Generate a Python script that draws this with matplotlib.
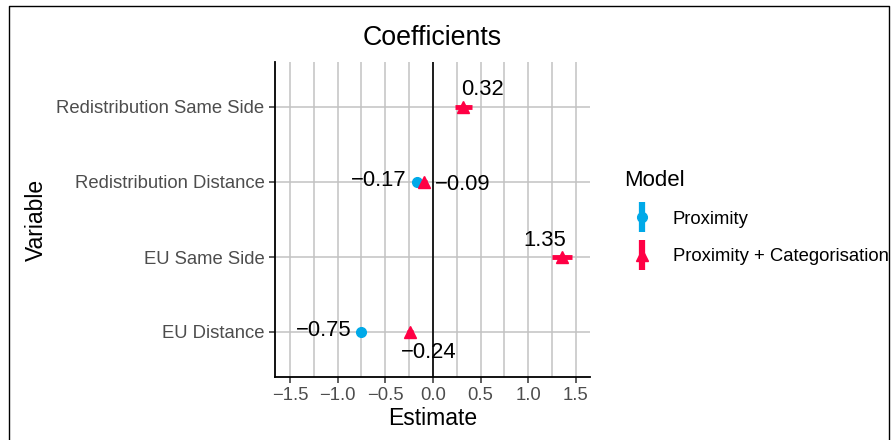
import matplotlib
matplotlib.use("Agg")
import matplotlib.pyplot as plt
from matplotlib.lines import Line2D
from matplotlib.legend_handler import HandlerTuple
import numpy as np

plt.rcParams['font.family'] = ['Liberation Sans', 'DejaVu Sans']

# ---- data ----
variables = ["EU Distance", "EU Same Side", "Redistribution Distance", "Redistribution Same Side"]

prox_vars = ["Redistribution Distance", "EU Distance"]
prox_est = [-0.17, -0.75]
prox_lo = [-0.19, -0.77]
prox_hi = [-0.15, -0.73]

cat_vars = ["Redistribution Same Side", "Redistribution Distance", "EU Same Side", "EU Distance"]
cat_est = [0.32, -0.09, 1.35, -0.24]
cat_lo = [0.23, -0.12, 1.25, -0.27]
cat_hi = [0.41, -0.06, 1.46, -0.21]

x_ticks = [-1.5, -1.0, -0.5, 0.0, 0.5, 1.0, 1.5]
x_tick_labels = ["\u22121.5", "\u22121.0", "\u22120.5", "0.0", "0.5", "1.0", "1.5"]

# label offsets in pixels (ggrepel-like placement)
prox_offsets = [(-10, 1, "right"), (-10, 2, "right")]
cat_offsets = [(19, 17, "center"), (11, -3, "left"), (-17, 17, "center"), (19, -20, "center")]

BLUE = "#00A9E8"
RED = "#FF0044"

fig = plt.figure(figsize=(8.91, 4.4), dpi=100)
ax = fig.add_axes([275 / 891, 1 - 377 / 440, 315 / 891, 315 / 440])

ypos = {v: i + 1 for i, v in enumerate(variables)}
py = [ypos[v] for v in prox_vars]
cy = [ypos[v] for v in cat_vars]

# grid
ax.set_xticks(x_ticks)
ax.set_xticklabels(x_tick_labels)
ax.set_xticks(np.arange(-1.75, 1.76, 0.5), minor=True)
ax.set_yticks(list(ypos.values()))
ax.set_yticklabels(variables)
ax.grid(True, which="both", axis="x", color="#c2c2c2", lw=1.1, zorder=0)
ax.grid(True, which="major", axis="y", color="#c2c2c2", lw=1.1, zorder=0)
ax.tick_params(axis="x", which="minor", length=0)
ax.axvline(0, color="black", lw=1.2, zorder=1)

# points with intervals
ax.hlines(py, prox_lo, prox_hi, color=BLUE, lw=3, zorder=3)
ax.plot(prox_est, py, "o", color=BLUE, ms=7, zorder=4)
ax.hlines(cy, cat_lo, cat_hi, color=RED, lw=3.5, zorder=3)
ax.plot(cat_est, cy, "^", color=RED, ms=9, zorder=4)

for x, y, (dx, dy, ha) in zip(prox_est, py, prox_offsets):
    ax.annotate(f"{x:.2f}".replace("-", "\u2212"), (x, y), xytext=(dx, dy),
                textcoords="offset pixels", ha=ha, va="center", fontsize=15.8, zorder=5)
for x, y, (dx, dy, ha) in zip(cat_est, cy, cat_offsets):
    ax.annotate(f"{x:.2f}".replace("-", "\u2212"), (x, y), xytext=(dx, dy),
                textcoords="offset pixels", ha=ha, va="center", fontsize=15.8, zorder=5)

ax.set_xlim(-1.657, 1.647)
ax.set_ylim(0.4, 4.6)

for s in ["top", "right"]:
    ax.spines[s].set_visible(False)
for s in ["left", "bottom"]:
    ax.spines[s].set_linewidth(1.3)
ax.tick_params(axis="both", which="major", labelsize=13.3, labelcolor="#4d4d4d",
               length=4, width=1.1, color="#333333")
ax.set_axisbelow(True)

ax.set_title("Coefficients", fontsize=19.3, pad=12)
ax.set_xlabel("Estimate", fontsize=16.5)
ax.set_ylabel("Variable", fontsize=16.5)
ax.xaxis.set_label_coords(0.5, -0.095)
ax.yaxis.set_label_coords(-0.72, 0.5)

# legend
h_prox = (Line2D([], [], marker="|", ms=22, mew=4.5, color=BLUE, ls="none"),
          Line2D([], [], marker="o", ms=7, color=BLUE, ls="none"))
h_cat = (Line2D([], [], marker="|", ms=22, mew=4.5, color=RED, ls="none"),
         Line2D([], [], marker="^", ms=9, color=RED, ls="none"))
leg = fig.legend([h_prox, h_cat], ["Proximity", "Proximity + Categorisation"],
                 handler_map={tuple: HandlerTuple(ndivide=1)},
                 loc="upper left", bbox_to_anchor=(607 / 891, 1 - 153 / 440),
                 frameon=False, title="Model", fontsize=13.3, title_fontsize=16,
                 alignment="left", handlelength=2.0, handletextpad=0.65,
                 labelspacing=1.1)

# outer frame
fx = [9 / 891, 9 / 891, 889 / 891, 889 / 891]
fy = [0, 1 - 6 / 440, 1 - 6 / 440, 0]
fig.add_artist(Line2D(fx, fy, transform=fig.transFigure, color="black", lw=1))

fig.savefig("out.png", dpi=100)
